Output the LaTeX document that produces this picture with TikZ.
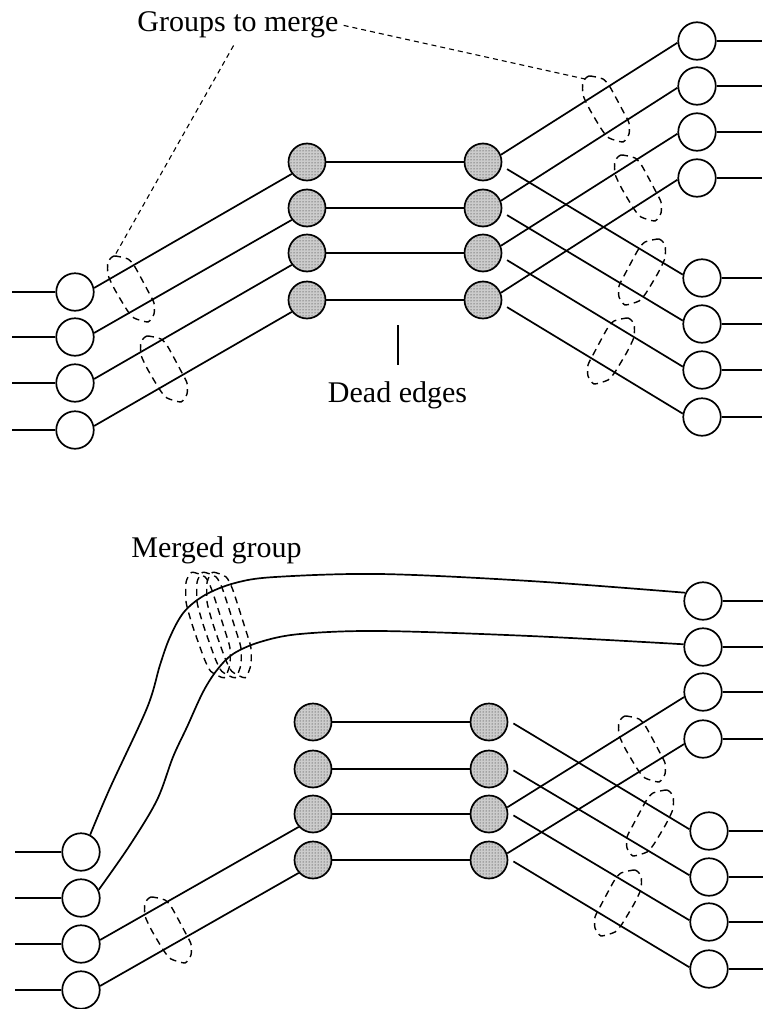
\documentclass[tikz,border=0pt]{standalone}
\usepackage{fontspec}
\setmainfont{Liberation Serif}
\usetikzlibrary{patterns}
\begin{document}
\begin{tikzpicture}[x=1pt,y=-1pt,
  wn/.style={circle,draw,line width=1.7pt,minimum size=37.5pt,inner sep=0pt,fill=white},
  gn/.style={circle,draw,line width=1.7pt,minimum size=37pt,inner sep=0pt,fill=gray!40,postaction={pattern=dots,pattern color=black!90}},
  ed/.style={line width=1.7pt},
  grpline/.style={line width=1.4pt,dash pattern=on 7pt off 5pt},
  lead/.style={line width=1.1pt,dash pattern=on 5pt off 4pt},
  lbl/.style={inner sep=0pt,font=\fontsize{30}{36}\selectfont,anchor=base},
  grpshape/.pic={\draw[grpline] plot[smooth cycle,tension=0.35] coordinates {(-23,-27) (-17,-33) (-3,-30) (4,-22) (17,2) (23,14) (23,25) (17,33) (3,29) (-4,21) (-16,1) (-23,-14)};}
]
\useasboundingbox (0,0) rectangle (763,1009);

% ---------------- top diagram ----------------
\foreach \i/\y in {1/292,2/337,3/383,4/430}{
  \node[wn] (lw\i) at (75,\y) {};
  \coordinate (ls\i) at (12,\y);
}
\foreach \i/\y in {1/162,2/208,3/253,4/300}{
  \node[gn] (gl\i) at (307,\y) {};
  \node[gn] (gr\i) at (483,\y) {};
}
\foreach \i/\x/\y in {1/697/41,2/697/86,3/697/132,4/697/178,5/702/278,6/702/324,7/702/370,8/702/417}{
  \node[wn] (rw\i) at (\x,\y) {};
  \coordinate (rs\i) at (762,\y);
}
\foreach \i in {1,...,4}{
  \draw[ed] (ls\i) -- (lw\i);
  \draw[ed] (lw\i.12) -- (gl\i.218);
  \draw[ed] (gl\i) -- (gr\i);
  \draw[ed] (gr\i.22) -- (rw\i.185);
}
\foreach \i/\j in {1/5,2/6,3/7,4/8}
  \draw[ed,shorten <=6pt] (gr\i.-12) -- (rw\j.170);
\foreach \i in {1,...,8}
  \draw[ed] (rw\i) -- (rs\i);

% groups (top)
\pic at (131,289) {grpshape};
\pic at (164,369) {grpshape};
\pic at (606,109) {grpshape};
\pic at (638,188) {grpshape};
\pic[xscale=-1] at (642,272) {grpshape};
\pic[xscale=-1] at (611,351) {grpshape};

% labels (top)
\node[lbl] (gtm) at (238,31) {Groups to merge};
\node[lbl] (dead) at (397.5,402) {Dead edges};
\coordinate (l1tip) at (114,257);
\coordinate (r1tip) at (585,79);
\draw[lead,shorten <=5pt] (gtm.east) -- (r1tip);
\draw[lead,shorten <=9pt] (gtm.south) -- (l1tip);
\coordinate (dt1) at (398,325);
\coordinate (dt2) at (398,365);
\draw[line width=1.4pt] (dt1) -- (dt2);

% ---------------- bottom diagram ----------------
\foreach \i/\y in {1/852,2/898,3/944,4/990}{
  \node[wn] (lb\i) at (81,\y) {};
  \coordinate (lbs\i) at (15,\y);
}
\foreach \i/\y in {1/722,2/769,3/814,4/860}{
  \node[gn] (gbl\i) at (313,\y) {};
  \node[gn] (gbr\i) at (489,\y) {};
}
\foreach \i/\x/\y in {1/703/601,2/703/647,3/703/692,4/703/739,5/709/831,6/709/877,7/709/922,8/709/969}{
  \node[wn] (rb\i) at (\x,\y) {};
  \coordinate (rbs\i) at (763,\y);
}
\foreach \i in {1,...,4}{
  \draw[ed] (lbs\i) -- (lb\i);
  \draw[ed] (gbl\i) -- (gbr\i);
}
\foreach \i in {1,...,8}
  \draw[ed] (rb\i) -- (rbs\i);
\draw[ed] (lb3.12) -- (gbl3.222);
\draw[ed] (lb4.12) -- (gbl4.222);
\draw[ed] (gbr3.20) -- (rb3.195);
\draw[ed] (gbr4.20) -- (rb4.195);
\foreach \i/\j in {1/5,2/6,3/7,4/8}
  \draw[ed,shorten <=6pt] (gbr\i.5) -- (rb\j.175);

% long curved edges
\draw[ed] plot[smooth,tension=0.55] coordinates {(lb1.62) (110,788) (147,708) (160,665) (170,637) (184,612) (205,595) (235,583) (275,577) (380,574) (530,581) (rb1.155)};
\draw[ed] plot[smooth,tension=0.55] coordinates {(lb2.25) (130,845) (157,800) (173,757) (187,727) (203,692) (217,670) (233,654) (260,642) (300,634) (380,631) (530,636) (rb2.172)};

% groups (bottom)
\pic at (168,930) {grpshape};
\pic at (642,749) {grpshape};
\pic[xscale=-1] at (650,823) {grpshape};
\pic[xscale=-1] at (618,903) {grpshape};
\pic[xscale=0.95,yscale=1.6] at (208,625) {grpshape};
\pic[xscale=0.95,yscale=1.6] at (219,625) {grpshape};
\pic[xscale=0.95,yscale=1.6] at (229,625) {grpshape};

\node[lbl] (mg) at (216.5,557) {Merged group};
\end{tikzpicture}
\end{document}
